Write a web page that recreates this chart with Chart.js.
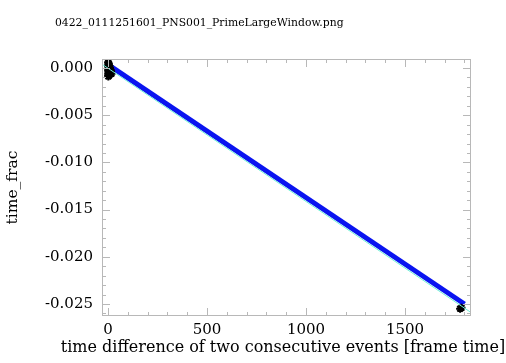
<!DOCTYPE html>
<html>
<head>
<meta charset="utf-8">
<script src="https://cdn.jsdelivr.net/npm/chart.js@4.4.0/dist/chart.umd.min.js"></script>
<style>
  body { margin: 0; background: #fff; }
  #wrap { width: 506px; height: 363px; }
</style>
</head>
<body>
<div id="wrap"><canvas id="chart"></canvas></div>
<script>
const chartTitle = "0422_0111251601_PNS001_PrimeLargeWindow.png";
const xTitle = "time difference of two consecutive events [frame time]";

// blue line (data)
const lineX = [12, 1800];
const lineY = [0.0002, -0.0250];

// cyan fit line
const fitX = [-30, 1833];
const fitY = [0.0004, -0.0259];

// black asterisks
const ptsX = [1, 1, 1, 2, 2, 2, 3, 3, 3, 4, 4, 5, 5, 6, 7, 8, 9, 10, 12, 14, 16, 18, 1, 2, 1778, 1785];
const ptsY = [0.0006, -0.0003, -0.0008, 0.0003, -0.0006, -0.0009, 0.0001, -0.0005, 0.0005, 0.0004, -0.0002, 0.0000, -0.0008, -0.0004, 0.0002, -0.0001, -0.0003, 0.0000, -0.0002, -0.0003, -0.0004, -0.0006, 0.0002, -0.0001, -0.0255, -0.0254];

const xTicks = [0, 500, 1000, 1500];
const yTicks = [0, -0.005, -0.010, -0.015, -0.020, -0.025];

const toXY = (xs, ys) => xs.map((x, i) => ({ x: x, y: ys[i] }));

const serif = "'DejaVu Serif', 'Liberation Serif', serif";
const tickFont = { family: serif, size: 15 };

// IDL-style box with inward ticks on all sides, plus the texts
const boxTicks = {
  id: "boxTicks",
  afterDraw(chart) {
    const { ctx, chartArea: a, scales } = chart;
    ctx.save();
    ctx.strokeStyle = "#b8b8b8";
    ctx.lineWidth = 1;
    ctx.strokeRect(a.left + 0.5, a.top + 0.5, a.right - a.left - 1, a.bottom - a.top - 1);
    ctx.beginPath();
    for (let v = 0; v <= 1800; v += 100) {
      const px = Math.round(scales.x.getPixelForValue(v)) + 0.5;
      const len = v % 500 === 0 ? 8 : 4;
      ctx.moveTo(px, a.bottom); ctx.lineTo(px, a.bottom - len);
      ctx.moveTo(px, a.top); ctx.lineTo(px, a.top + len);
    }
    for (let k = 0; k <= 26; k++) {
      const v = -k * 0.001;
      const py = Math.round(scales.y.getPixelForValue(v)) + 0.5;
      const len = k % 5 === 0 ? 8 : 4;
      ctx.moveTo(a.left, py); ctx.lineTo(a.left + len, py);
      ctx.moveTo(a.right, py); ctx.lineTo(a.right - len, py);
    }
    ctx.stroke();
    ctx.fillStyle = "#000";
    ctx.textBaseline = "middle";
    ctx.font = "10.8px " + serif;
    ctx.fillText(chartTitle, 55, 23);
    // x axis title, wider than the plot area in the original
    ctx.font = "16px " + serif;
    ctx.textAlign = "center";
    ctx.fillText(xTitle, 283, 348);
    ctx.restore();
  }
};

new Chart("chart", {
  type: "scatter",
  data: {
    datasets: [
      {
        label: "fit",
        type: "line",
        data: toXY(fitX, fitY),
        borderColor: "#70f0d8",
        borderWidth: 1,
        pointRadius: 0,
        fill: false,
      },
      {
        label: "data",
        data: toXY(ptsX, ptsY),
        pointStyle: "star",
        pointRadius: 4,
        borderColor: "#000",
        backgroundColor: "#000",
        borderWidth: 2,
      },
      {
        label: "time_frac",
        type: "line",
        data: toXY(lineX, lineY),
        borderColor: "#0a14f0",
        borderWidth: 5,
        pointRadius: 0,
        fill: false,
      },
    ],
  },
  options: {
    responsive: true,
    maintainAspectRatio: false,
    animation: false,
    layout: { padding: { top: 59, right: 35, left: 0, bottom: 0 } },
    plugins: { legend: { display: false }, tooltip: { enabled: false } },
    scales: {
      x: {
        type: "linear",
        min: -30,
        max: 1833,
        afterBuildTicks: (s) => { s.ticks = xTicks.map((v) => ({ value: v })); },
        afterFit: (s) => { s.height = 47; },
        grid: { display: false, drawTicks: false },
        border: { display: false },
        ticks: { color: "#000", font: tickFont, padding: 5, maxRotation: 0, callback: (v) => String(v) },
      },
      y: {
        type: "linear",
        min: -0.02627,
        max: 0.00095,
        afterBuildTicks: (s) => { s.ticks = yTicks.map((v) => ({ value: v })); },
        afterFit: (s) => { s.width = 102; },
        grid: { display: false, drawTicks: false },
        border: { display: false },
        ticks: {
          color: "#000",
          font: tickFont,
          padding: 9,
          callback: (v) => v.toFixed(3),
        },
        title: {
          display: true,
          text: "time_frac",
          color: "#000",
          font: { family: serif, size: 15.5 },
          padding: { top: 4, bottom: 0 },
        },
      },
    },
  },
  plugins: [boxTicks],
});
</script>
</body>
</html>
